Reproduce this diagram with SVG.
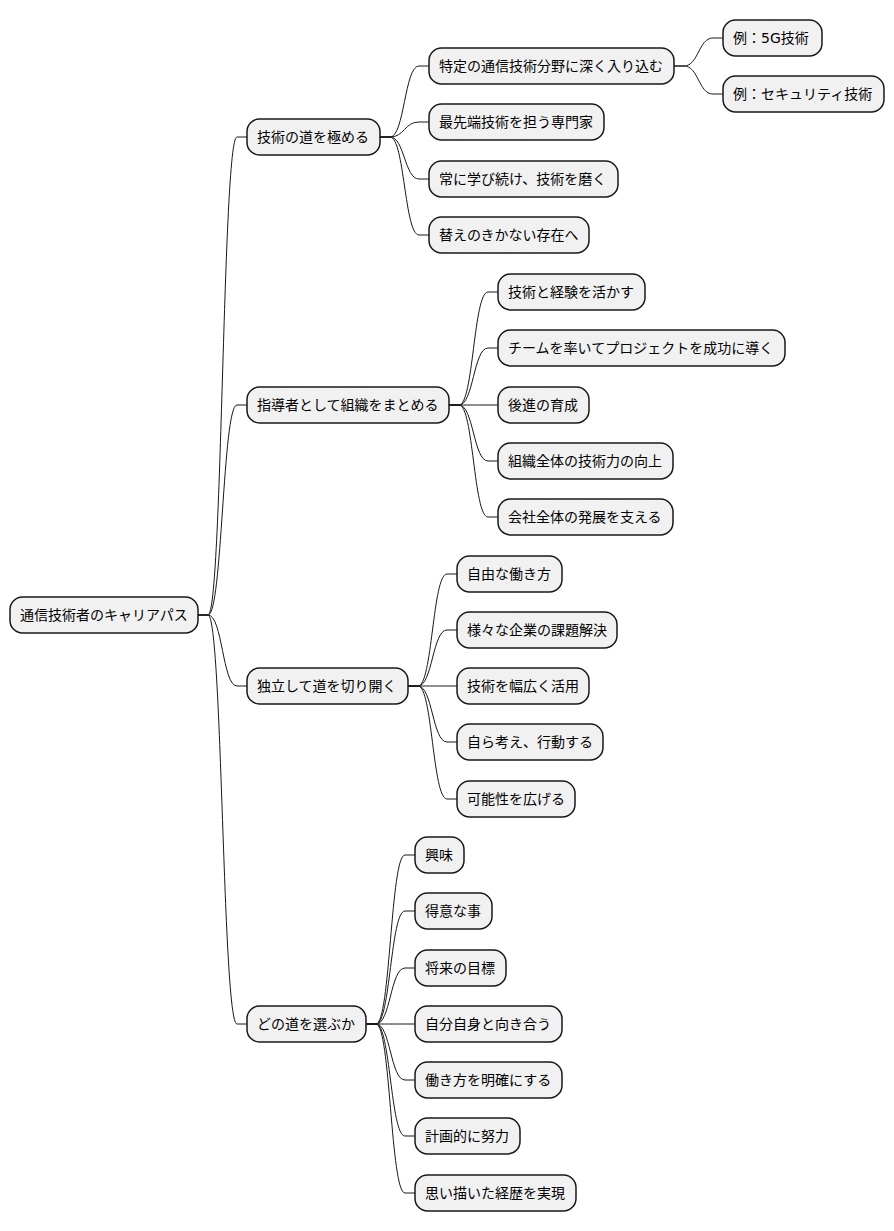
<svg xmlns="http://www.w3.org/2000/svg" width="894" height="1231" viewBox="0 0 894 1231">
  <style>
    .node rect { fill: #F1F1F1; stroke: #181818; stroke-width: 1.5; }
    .node text { font-family: "DejaVu Sans", "Noto Sans CJK JP", sans-serif; font-size: 14px; fill: #000000; }
    #connectors path { fill: none; stroke: #181818; stroke-width: 1; }
  </style>
  <rect width="894" height="1231" fill="#FFFFFF"/>

  <g id="connectors">
    <!-- root to level 1 -->
    <path d="M198,615 L208,615 C222.5,615 222.5,137 237,137 L247,137"/>
    <path d="M198,615 L208,615 C222.5,615 222.5,405 237,405 L247,405"/>
    <path d="M198,615 L208,615 C222.5,615 222.5,686 237,686 L247,686"/>
    <path d="M198,615 L208,615 C222.5,615 222.5,1024 237,1024 L247,1024"/>
    <!-- 技術の道を極める -->
    <path d="M380,137 L390,137 C404.5,137 404.5,66 419,66 L429,66"/>
    <path d="M380,137 L390,137 C404.5,137 404.5,122 419,122 L429,122"/>
    <path d="M380,137 L390,137 C404.5,137 404.5,179 419,179 L429,179"/>
    <path d="M380,137 L390,137 C404.5,137 404.5,235 419,235 L429,235"/>
    <!-- 特定の通信技術分野に深く入り込む -->
    <path d="M674,66 L684,66 C698.5,66 698.5,38 713,38 L723,38"/>
    <path d="M674,66 L684,66 C698.5,66 698.5,94 713,94 L723,94"/>
    <!-- 指導者として組織をまとめる -->
    <path d="M449,405 L459,405 C473.5,405 473.5,292 488,292 L498,292"/>
    <path d="M449,405 L459,405 C473.5,405 473.5,348 488,348 L498,348"/>
    <path d="M449,405 L459,405 C473.5,405 473.5,405 488,405 L498,405"/>
    <path d="M449,405 L459,405 C473.5,405 473.5,461 488,461 L498,461"/>
    <path d="M449,405 L459,405 C473.5,405 473.5,517 488,517 L498,517"/>
    <!-- 独立して道を切り開く -->
    <path d="M408,686 L418,686 C432.5,686 432.5,574 447,574 L457,574"/>
    <path d="M408,686 L418,686 C432.5,686 432.5,630 447,630 L457,630"/>
    <path d="M408,686 L418,686 C432.5,686 432.5,686 447,686 L457,686"/>
    <path d="M408,686 L418,686 C432.5,686 432.5,742 447,742 L457,742"/>
    <path d="M408,686 L418,686 C432.5,686 432.5,799 447,799 L457,799"/>
    <!-- どの道を選ぶか -->
    <path d="M366,1024 L376,1024 C390.5,1024 390.5,855 405,855 L415,855"/>
    <path d="M366,1024 L376,1024 C390.5,1024 390.5,911 405,911 L415,911"/>
    <path d="M366,1024 L376,1024 C390.5,1024 390.5,968 405,968 L415,968"/>
    <path d="M366,1024 L376,1024 C390.5,1024 390.5,1024 405,1024 L415,1024"/>
    <path d="M366,1024 L376,1024 C390.5,1024 390.5,1080 405,1080 L415,1080"/>
    <path d="M366,1024 L376,1024 C390.5,1024 390.5,1136 405,1136 L415,1136"/>
    <path d="M366,1024 L376,1024 C390.5,1024 390.5,1193 405,1193 L415,1193"/>
  </g>

  <g id="root" class="node"><rect x="10" y="597" width="188" height="36" rx="12.5"/><text x="20" y="620">通信技術者のキャリアパス</text></g>

  <g id="mastery" class="node"><rect x="247" y="119" width="133" height="36" rx="12.5"/><text x="257" y="142">技術の道を極める</text></g>
  <g id="mastery-field" class="node"><rect x="429" y="48" width="245" height="36" rx="12.5"/><text x="439" y="71">特定の通信技術分野に深く入り込む</text></g>
  <g id="mastery-5g" class="node"><rect x="723" y="20" width="99" height="36" rx="12.5"/><text x="733" y="43">例：5G技術</text></g>
  <g id="mastery-security" class="node"><rect x="723" y="76" width="161" height="36" rx="12.5"/><text x="733" y="99">例：セキュリティ技術</text></g>
  <g id="mastery-expert" class="node"><rect x="429" y="104" width="175" height="36" rx="12.5"/><text x="439" y="127">最先端技術を担う専門家</text></g>
  <g id="mastery-learn" class="node"><rect x="429" y="161" width="189" height="36" rx="12.5"/><text x="439" y="184">常に学び続け、技術を磨く</text></g>
  <g id="mastery-unique" class="node"><rect x="429" y="217" width="160" height="36" rx="12.5"/><text x="439" y="240">替えのきかない存在へ</text></g>

  <g id="leader" class="node"><rect x="247" y="387" width="202" height="36" rx="12.5"/><text x="257" y="410">指導者として組織をまとめる</text></g>
  <g id="leader-experience" class="node"><rect x="498" y="274" width="147" height="36" rx="12.5"/><text x="508" y="297">技術と経験を活かす</text></g>
  <g id="leader-team" class="node"><rect x="498" y="330" width="287" height="36" rx="12.5"/><text x="508" y="353">チームを率いてプロジェクトを成功に導く</text></g>
  <g id="leader-juniors" class="node"><rect x="498" y="387" width="91" height="36" rx="12.5"/><text x="508" y="410">後進の育成</text></g>
  <g id="leader-skills" class="node"><rect x="498" y="443" width="175" height="36" rx="12.5"/><text x="508" y="466">組織全体の技術力の向上</text></g>
  <g id="leader-company" class="node"><rect x="498" y="499" width="175" height="36" rx="12.5"/><text x="508" y="522">会社全体の発展を支える</text></g>

  <g id="independent" class="node"><rect x="247" y="668" width="161" height="36" rx="12.5"/><text x="257" y="691">独立して道を切り開く</text></g>
  <g id="independent-free" class="node"><rect x="457" y="556" width="105" height="36" rx="12.5"/><text x="467" y="579">自由な働き方</text></g>
  <g id="independent-issues" class="node"><rect x="457" y="612" width="160" height="36" rx="12.5"/><text x="467" y="635">様々な企業の課題解決</text></g>
  <g id="independent-broad" class="node"><rect x="457" y="668" width="132" height="36" rx="12.5"/><text x="467" y="691">技術を幅広く活用</text></g>
  <g id="independent-act" class="node"><rect x="457" y="724" width="146" height="36" rx="12.5"/><text x="467" y="747">自ら考え、行動する</text></g>
  <g id="independent-potential" class="node"><rect x="457" y="781" width="118" height="36" rx="12.5"/><text x="467" y="804">可能性を広げる</text></g>

  <g id="choose" class="node"><rect x="247" y="1006" width="119" height="36" rx="12.5"/><text x="257" y="1029">どの道を選ぶか</text></g>
  <g id="choose-interest" class="node"><rect x="415" y="837" width="49" height="36" rx="12.5"/><text x="425" y="860">興味</text></g>
  <g id="choose-strength" class="node"><rect x="415" y="893" width="77" height="36" rx="12.5"/><text x="425" y="916">得意な事</text></g>
  <g id="choose-goal" class="node"><rect x="415" y="950" width="91" height="36" rx="12.5"/><text x="425" y="973">将来の目標</text></g>
  <g id="choose-self" class="node"><rect x="415" y="1006" width="147" height="36" rx="12.5"/><text x="425" y="1029">自分自身と向き合う</text></g>
  <g id="choose-workstyle" class="node"><rect x="415" y="1062" width="147" height="36" rx="12.5"/><text x="425" y="1085">働き方を明確にする</text></g>
  <g id="choose-effort" class="node"><rect x="415" y="1118" width="105" height="36" rx="12.5"/><text x="425" y="1141">計画的に努力</text></g>
  <g id="choose-career" class="node"><rect x="415" y="1175" width="161" height="36" rx="12.5"/><text x="425" y="1198">思い描いた経歴を実現</text></g>
</svg>
